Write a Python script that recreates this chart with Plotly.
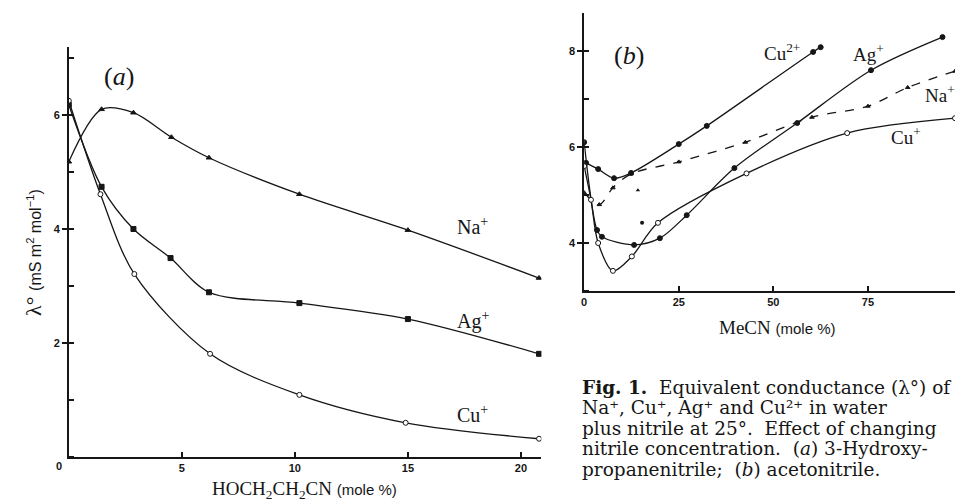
import plotly.graph_objects as go

# ---------------- Panel (a): HOCH2CH2CN (mole %) ----------------
a_na_x = [0, 1.45, 2.86, 4.54, 6.2, 10.2, 15.0, 20.8]
a_na_y = [5.18, 6.10, 6.04, 5.61, 5.25, 4.61, 3.98, 3.14]
a_ag_x = [0, 1.45, 2.86, 4.5, 6.2, 10.2, 15.0, 20.8]
a_ag_y = [6.18, 4.74, 4.00, 3.49, 2.89, 2.70, 2.42, 1.81]
a_cu_x = [0, 1.4, 2.9, 6.25, 10.2, 14.9, 20.8]
a_cu_y = [6.25, 4.61, 3.21, 1.81, 1.09, 0.60, 0.32]

# ---------------- Panel (b): MeCN (mole %) ----------------
b_cu2_x = [0.5, 3.7, 7.9, 12.4, 25, 32.4, 60.5, 62.5]
b_cu2_y = [5.67, 5.54, 5.35, 5.46, 6.06, 6.44, 7.98, 8.08]
b_ag_x = [0, 3.4, 4.7, 13.2, 20, 27.1, 39.7, 56.3, 75.8, 94.7]
b_ag_y = [6.10, 4.27, 4.13, 3.96, 4.10, 4.58, 5.56, 6.50, 7.60, 8.29]
b_na_x = [0, 4.0, 7.6, 12.4, 25, 42.6, 60.2, 75, 85.5, 98]
b_na_y = [5.05, 4.80, 5.15, 5.44, 5.69, 6.10, 6.62, 6.85, 7.24, 7.58]
b_cu_x = [0, 1.8, 3.7, 7.6, 12.6, 19.5, 42.9, 69.5, 98]
b_cu_y = [5.60, 4.90, 4.00, 3.42, 3.72, 4.42, 5.45, 6.29, 6.60]
b_extra_x = [14.2, 15.3]
b_extra_y = [5.10, 4.42]
b_extra_sym = ["triangle-up", "circle"]

INK = "#161616"
W, H = 955, 504

fig = go.Figure()

def add(x, y, sym, xa, ya, dash="solid", size=5, fill=True):
    fig.add_trace(go.Scatter(
        x=x, y=y, xaxis=xa, yaxis=ya, mode="lines+markers",
        line=dict(color=INK, width=1.3, shape="spline", smoothing=0.9, dash=dash),
        marker=dict(symbol=sym, size=size,
                    color=INK if fill else "white",
                    line=dict(color=INK, width=1)),
        showlegend=False, hoverinfo="skip"))

add(a_na_x, a_na_y, "triangle-up", "x", "y", size=5)
add(a_ag_x, a_ag_y, "square", "x", "y", size=5)
add(a_cu_x, a_cu_y, "circle", "x", "y", size=5, fill=False)

add(b_cu2_x, b_cu2_y, "circle", "x2", "y2", size=5)
add(b_ag_x, b_ag_y, "circle", "x2", "y2", size=5)
add(b_na_x, b_na_y, "triangle-up", "x2", "y2", dash="dash", size=4)
add(b_cu_x, b_cu_y, "circle", "x2", "y2", size=5, fill=False)
fig.add_trace(go.Scatter(x=b_extra_x, y=b_extra_y, xaxis="x2", yaxis="y2", mode="markers",
                         marker=dict(symbol=b_extra_sym, size=4, color=INK),
                         showlegend=False, hoverinfo="skip"))

tickfont = dict(family="Liberation Sans", size=11, color=INK, weight="bold")
axis_common = dict(showgrid=False, zeroline=False, showline=True, linecolor=INK,
                   linewidth=1.6, tickcolor=INK, tickwidth=1.5, tickfont=tickfont)

fig.update_layout(
    width=W, height=H, margin=dict(l=0, r=0, t=0, b=0),
    paper_bgcolor="white", plot_bgcolor="white",
    xaxis=dict(domain=[66/W, 540/W], range=[0, 20.9], anchor="y",
               tickmode="array", tickvals=[5, 10, 15, 20], ticks="inside", ticklen=5,
               **axis_common),
    yaxis=dict(domain=[1-457/H, 1-46.6/H], range=[0, 7.2], anchor="x",
               tickmode="array", tickvals=[2, 4, 6], ticks="outside", ticklen=5,
               minor=dict(tickmode="linear", tick0=0, dtick=1, ticks="inside", ticklen=5,
                          tickcolor=INK, tickwidth=1.5),
               **axis_common),
    xaxis2=dict(domain=[583/W, 1.0], range=[0, 98], anchor="y2",
                tickmode="array", tickvals=[0, 25, 50, 75], ticks="inside", ticklen=5,
                **axis_common),
    yaxis2=dict(domain=[1-291/H, 1-12.6/H], range=[3, 8.8], anchor="x2",
                tickmode="array", tickvals=[4, 6, 8], ticks="outside", ticklen=5,
                minor=dict(tickmode="linear", tick0=3, dtick=1, ticks="inside", ticklen=5,
                           tickcolor=INK, tickwidth=1.5),
                **axis_common),
)

serif = "Liberation Serif"
ann = []
def A(text, x, y, size=16, family=serif, xanchor="center", yanchor="middle", angle=0, **kw):
    ann.append(dict(text=text, x=x/W, y=1-y/H, xref="paper", yref="paper",
                    showarrow=False, xanchor=xanchor, yanchor=yanchor, textangle=angle,
                    font=dict(family=family, size=size, color=INK), **kw))

# corner zero of panel (a)
A("<b>0</b>", 56, 466, size=11, family="Liberation Sans")
# axis titles
A("λ° <span style='font-family:Liberation Sans;font-size:16px'>(mS m<sup>2</sup> mol<sup>−1</sup>)</span>",
  30, 252, size=22, angle=-90)
A("HOCH<sub>2</sub>CH<sub>2</sub>CN <span style='font-family:Liberation Sans;font-size:15px'>(mole %)</span>",
  302, 490, size=19)
A("MeCN <span style='font-family:Liberation Sans;font-size:15px'>(mole %)</span>", 777, 327, size=19)
# panel letters
A("(<i>a</i>)", 116, 76, size=26)
A("(<i>b</i>)", 628, 55, size=26)
# series labels
A("Na<sup>+</sup>", 471, 226, size=20)
A("Ag<sup>+</sup>", 471, 320, size=20)
A("Cu<sup>+</sup>", 471, 414, size=20)
A("Cu<sup>2+</sup>", 781, 52, size=19)
A("Ag<sup>+</sup>", 868, 53, size=19)
A("Na<sup>+</sup>", 940, 94, size=19)
A("Cu<sup>+</sup>", 906, 136, size=19)
# caption
cap = [
    "<b>Fig. 1.</b>&nbsp; Equivalent conductance (λ°) of",
    "Na⁺, Cu⁺, Ag⁺ and Cu²⁺ in water",
    "plus nitrile at 25°.&nbsp; Effect of changing",
    "nitrile concentration.&nbsp; (<i>a</i>) 3-Hydroxy-",
    "propanenitrile;&nbsp; (<i>b</i>) acetonitrile.",
]
for i, line in enumerate(cap):
    A(line, 579, 387 + 20.5*i, size=18.5, family="DejaVu Serif", xanchor="left")

fig.update_layout(annotations=ann)
fig.write_html("out.html")
